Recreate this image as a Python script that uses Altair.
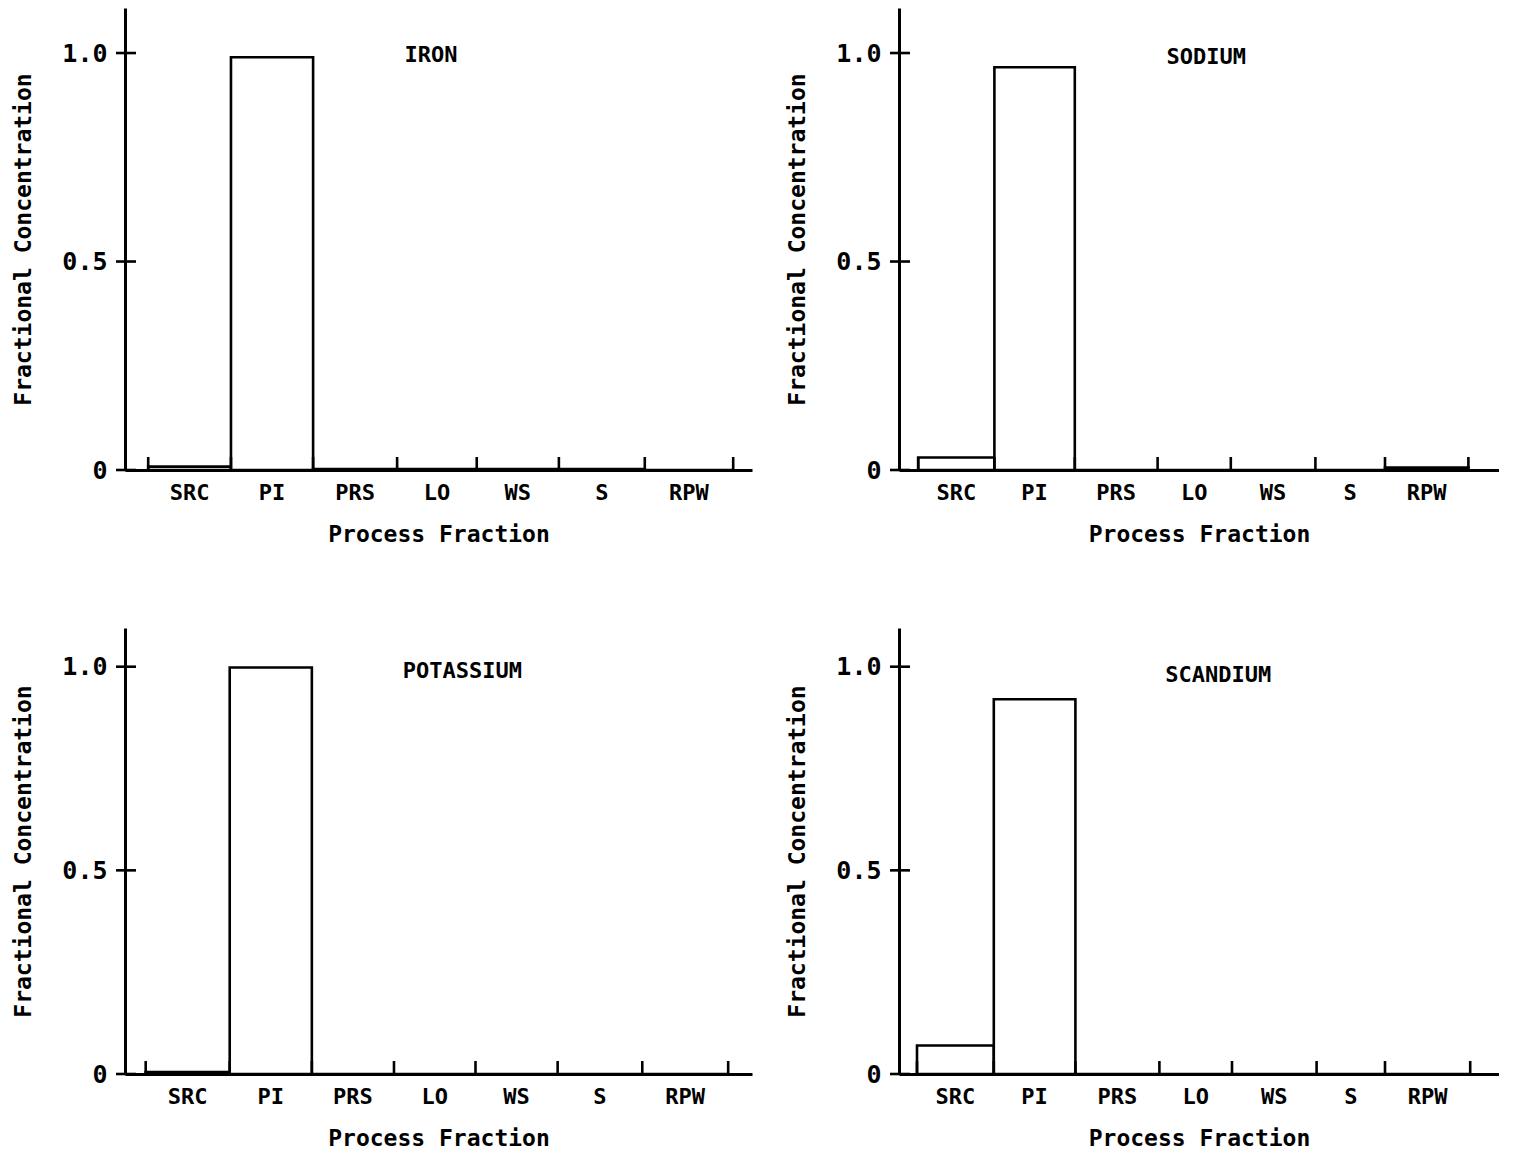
import altair as alt
import pandas as pd

categories = ["SRC", "PI", "PRS", "LO", "WS", "S", "RPW"]

# fractional concentration per process fraction
iron = [0.008, 0.99, 0.002, 0.002, 0.002, 0.002, 0.0]
sodium = [0.03, 0.966, 0.0, 0.0, 0.0, 0.0, 0.006]
potassium = [0.005, 0.998, 0.0, 0.0, 0.0, 0.0, 0.0]
scandium = [0.07, 0.92, 0.0, 0.0, 0.0, 0.0, 0.0]

# bin boundaries along the process-fraction axis (axis length = 100)
edges_iron = [3.7, 16.9, 30.0, 43.4, 56.1, 69.2, 82.9, 97.0]
edges_sodium = [3.2, 15.9, 29.3, 43.1, 55.3, 69.4, 81.0, 94.9]
edges_potassium = [3.3, 16.7, 29.8, 42.9, 55.9, 69.0, 82.5, 96.2]
edges_scandium = [3.0, 15.8, 29.4, 43.4, 55.5, 69.6, 81.0, 95.2]

y_ticks = [0, 0.5, 1.0]

FONT = "DejaVu Sans Mono"
FS = 23
SW = 2.6


def panel(name, values, edges, ymax, width, height, title_fx, title_py):
    bars = pd.DataFrame({
        "cat": categories,
        "x0": edges[:-1],
        "x1": edges[1:],
        "v": values,
        "base": [0.0] * len(values),
    })
    centers = pd.DataFrame({
        "cat": categories,
        "c": [(a + b) / 2 for a, b in zip(edges[:-1], edges[1:])],
    })
    edf = pd.DataFrame({"e": edges})
    tdf = pd.DataFrame({"t": y_ticks})
    ndf = pd.DataFrame({"name": [name]})

    xs = alt.Scale(domain=[0, 100], nice=False, zero=False)
    ys = alt.Scale(domain=[0, ymax], nice=False, zero=True)

    rect = alt.Chart(bars).mark_rect(fill="white", stroke="black", strokeWidth=SW).encode(
        x=alt.X("x0:Q", scale=xs, axis=alt.Axis(
            title="Process Fraction", labels=False, ticks=False, grid=False,
            domainColor="black", domainWidth=3, titleFont=FONT, titleFontSize=FS,
            titleFontWeight="bold", titleColor="black", titlePadding=53)),
        x2="x1:Q",
        y=alt.Y("v:Q", scale=ys, axis=alt.Axis(
            title="Fractional Concentration", values=y_ticks, ticks=False, grid=False,
            labelExpr="datum.value == 0 ? '0' : format(datum.value, '.1f')",
            labelFont=FONT, labelFontSize=25, labelFontWeight="bold", labelColor="black",
            labelPadding=18, domainColor="black", domainWidth=3,
            titleFont=FONT, titleFontSize=FS, titleFontWeight="bold", titleColor="black",
            titlePadding=26)),
        y2="base:Q",
    )

    xticks = alt.Chart(edf).mark_rule(color="black", strokeWidth=SW).encode(
        x=alt.X("e:Q", scale=xs),
        y=alt.value(height),
        y2=alt.value(height - 13),
    )

    yticks = alt.Chart(tdf).mark_rule(color="black", strokeWidth=SW).encode(
        y=alt.Y("t:Q", scale=ys),
        x=alt.value(-9),
        x2=alt.value(11),
    )

    labels = alt.Chart(centers).mark_text(
        font=FONT, fontSize=22, fontWeight="bold", color="black", baseline="top", align="center"
    ).encode(
        x=alt.X("c:Q", scale=xs),
        y=alt.value(height + 13),
        text="cat:N",
    )

    title = alt.Chart(ndf).mark_text(
        font=FONT, fontSize=22, fontWeight="bold", color="black", baseline="middle", align="center"
    ).encode(
        x=alt.value(width * title_fx),
        y=alt.value(title_py),
        text="name:N",
    )

    return alt.layer(rect, xticks, yticks, labels, title).properties(width=width, height=height)


top_h = 462
bot_h = 446
p1 = panel("IRON", iron, edges_iron, 1.108, 627, top_h, 0.488, 47)
p2 = panel("SODIUM", sodium, edges_sodium, 1.108, 600, top_h, 0.512, 49)
p3 = panel("POTASSIUM", potassium, edges_potassium, 1.095, 627, bot_h, 0.538, 43)
p4 = panel("SCANDIUM", scandium, edges_scandium, 1.095, 600, bot_h, 0.532, 47)

chart = alt.vconcat(
    alt.hconcat(p1, p2, spacing=34),
    alt.hconcat(p3, p4, spacing=34),
    spacing=82,
).properties(padding={"left": 4, "top": 0, "right": 0, "bottom": 0}).configure_view(stroke=None)

chart.save("out.html", embed_options={"renderer": "svg", "actions": False})
